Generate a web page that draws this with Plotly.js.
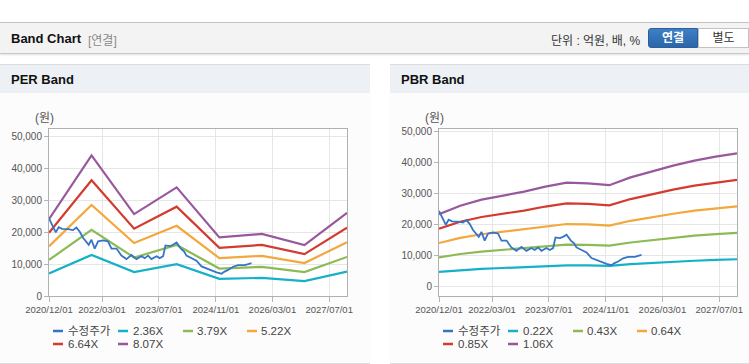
<!DOCTYPE html>
<html>
<head>
<meta charset="utf-8">
<script src="https://cdn.plot.ly/plotly-3.0.1.min.js"></script>
<style>
  html, body { margin:0; padding:0; width:749px; height:364px; overflow:hidden; background:#ffffff;
    font-family: "Liberation Sans", "Noto Sans CJK KR", sans-serif; }
  .topbar { position:absolute; left:0; top:22px; width:749px; height:30px; background:#f3f3f3;
    border-top:1px solid #c4c4c4; border-bottom:1px solid #c9c9c9; box-shadow:0 1px 2px rgba(0,0,0,0.12); }
  .tb-title { position:absolute; left:11px; top:8px; font-weight:bold; font-size:13px; color:#111; }
  .tb-sub { position:absolute; left:88px; top:8px; font-size:12px; color:#8a8a8a; }
  .tb-unit { position:absolute; left:551px; top:8px; font-size:12px; color:#333; }
  .btn1 { position:absolute; left:648px; top:5px; width:50px; height:20px; background:linear-gradient(#3f7fc4,#2a66aa);
    border:1px solid #2a5f9c; border-radius:3px 0 0 3px; color:#fff; font-weight:bold; font-size:12px; text-align:center; line-height:18px; box-sizing:border-box; }
  .btn2 { position:absolute; left:698px; top:5px; width:51px; height:20px; background:#fff;
    border:1px solid #c2c2c2; color:#333; font-size:12px; text-align:center; line-height:18px; box-sizing:border-box; }
  .panel { position:absolute; top:64px; height:298px; background:#fcfcfc; border-top:1px solid #dcdcdc; border-bottom:1px solid #dcdcdc; }
  .phead { position:absolute; left:0; top:0; width:100%; height:28px; background:#edf1f6; }
  .phead span { position:absolute; left:11px; top:7px; font-weight:bold; font-size:13px; color:#111; }
  .chart { position:absolute; top:29px; left:0; height:269px; }
</style>
</head>
<body>
<div class="topbar">
  <span class="tb-title">Band Chart</span>
  <span class="tb-sub">[연결]</span>
  <span class="tb-unit">단위 : 억원, 배, %</span>
  <div class="btn1">연결</div>
  <div class="btn2">별도</div>
</div>
<div class="panel" style="left:0;width:370px;">
  <div class="phead"><span>PER Band</span></div>
  <div id="per" class="chart" style="width:370px;"></div>
</div>
<div class="panel" style="left:390px;width:359px;">
  <div class="phead"><span>PBR Band</span></div>
  <div id="pbr" class="chart" style="width:359px;"></div>
</div>
<script>
// ---- shared price series (수정주가) ----
const priceName = '수정주가';
const priceDates = ['2020-12-01','2020-12-22','2021-01-28','2021-02-22','2021-03-23','2021-05-13','2021-06-25','2021-07-24',
  '2021-08-22','2021-09-19','2021-10-18','2021-11-07','2021-11-30','2021-12-28','2022-01-26','2022-03-10','2022-04-21',
  '2022-05-21','2022-07-03','2022-08-14','2022-09-26','2022-11-08','2022-12-21','2023-02-02','2023-03-02','2023-03-31',
  '2023-04-29','2023-06-11','2023-07-09','2023-08-07','2023-08-27','2023-10-03','2023-10-31','2023-11-30','2024-01-06',
  '2024-02-03','2024-02-23','2024-04-06','2024-05-19','2024-07-01','2024-08-13','2024-09-25','2024-11-07','2024-12-20',
  '2025-01-11','2025-02-14','2025-03-29','2025-05-11','2025-07-08','2025-09-03'];
const priceValues = [24400,22900,20000,21600,21100,21000,20700,21500,
  20200,18300,17000,16100,17700,14900,17200,17500,17200,
  14900,14900,12700,11600,12900,11600,12500,11900,12700,
  11600,12500,11900,12500,15900,15700,16100,16800,14900,
  14000,12700,11900,11100,9300,8650,7900,7400,7000,
  7600,8200,9200,9700,9700,10300];

// ---- PER band ----
const perDates = ['2020-12-01','2021-12-01','2022-12-01','2023-12-01','2024-12-01','2025-12-01','2026-12-01','2027-12-01'];
const perLabels = ['2.36X','3.79X','5.22X','6.64X','8.07X'];
const per236 = [7060,12930,7530,9980,5380,5710,4670,7650];
const per379 = [11330,20770,12090,16030,8640,9170,7500,12280];
const per522 = [15610,28610,16650,22080,11900,12630,10340,16910];
const per664 = [19850,36390,21180,28090,15140,16070,13150,21510];
const per807 = [24130,44220,25740,34140,18400,19530,15980,26150];

// ---- PBR band ----
const pbrDates = ['2020-12-01','2021-06-01','2021-12-01','2022-06-01','2022-12-01','2023-06-01','2023-12-01','2024-06-01',
  '2024-12-01','2025-06-01','2025-12-01','2026-06-01','2026-12-01','2027-06-01','2027-12-01'];
const pbrLabels = ['0.22X','0.43X','0.64X','0.85X','1.06X'];
const pbr022 = [4850,5420,5820,6090,6350,6690,6950,6910,6790,7310,7720,8090,8430,8690,8900];
const pbr043 = [9480,10590,11370,11890,12420,13070,13590,13510,13270,14290,15090,15810,16470,16990,17400];
const pbr064 = [14110,15760,16930,17700,18480,19460,20220,20110,19740,21260,22460,23530,24510,25280,25900];
const pbr085 = [18740,20940,22480,23510,24550,25840,26860,26710,26220,28240,29830,31260,32560,33580,34400];
const pbr106 = [23370,26110,28040,29320,30610,32220,33500,33310,32700,35210,37200,38980,40600,41870,42900];

const tickVals = ['2020-12-01','2022-03-01','2023-07-01','2024-11-01','2026-03-01','2027-07-01'];
const tickText = ['2020/12/01','2022/03/01','2023/07/01','2024/11/01','2026/03/01','2027/07/01'];
const yTicks = [0,10000,20000,30000,40000,50000];

const colors = ['#17b1c7','#8cbb56','#f3a73c','#d33b2e','#98589c'];
const priceColor = '#3675c6';
const FONT = 'Liberation Sans, Noto Sans CJK KR, sans-serif';

// plot-area geometry inside each chart div (pixels)
const ML = 49, MT = 35, MB = 67, PW = 298, DIVH = 269;
const PH = DIVH - MT - MB;

function build(divId, bandDates, bandSeries, labels, yRange, rightMargin) {
  const traces = [];
  bandSeries.forEach((vals, i) => {
    traces.push({ type:'scatter', mode:'lines', x:bandDates, y:vals, name:labels[i],
      line:{color:colors[i], width:2.2}, showlegend:false, hoverinfo:'skip' });
  });
  traces.push({ type:'scatter', mode:'lines', x:priceDates, y:priceValues, name:priceName,
    line:{color:priceColor, width:1.8}, showlegend:false, hoverinfo:'skip' });

  // legend drawn as keys + labels below the plot (2 rows, like the reference)
  const names = [priceName].concat(labels);
  const keyColors = [priceColor].concat(colors);
  const colKey = [53, 118, 183, 247];
  const colText = [66, 131, 195, 259];
  const rowY = [237, 250];            // pixel rows inside the chart div
  const px2x = p => (p - ML) / PW;
  const px2y = p => (DIVH - MB - p) / PH;
  const shapes = [], annotations = [];
  names.forEach((nm, k) => {
    const row = k < 4 ? 0 : 1, col = k < 4 ? k : k - 4;
    const y = px2y(rowY[row]);
    shapes.push({type:'line', xref:'paper', yref:'paper', x0:px2x(colKey[col]), x1:px2x(colKey[col] + 10),
      y0:y, y1:y, line:{color:keyColors[k], width:2.5}});
    annotations.push({xref:'paper', yref:'paper', x:px2x(colText[col]), y:y, xanchor:'left', yanchor:'middle',
      text:nm, showarrow:false, font:{family:FONT, size:11.5, color:'#444'}});
  });
  annotations.push({xref:'paper', yref:'paper', x:0, y:1, xanchor:'center', yanchor:'bottom', xshift:-5, yshift:2,
      text:'(원)', showarrow:false, font:{family:FONT, size:12, color:'#555'}});

  const layout = {
    width: divId === 'per' ? 370 : 359, height:DIVH,
    margin:{l:ML, r:rightMargin, t:MT, b:MB, pad:0},
    paper_bgcolor:'#fcfcfc', plot_bgcolor:'#ffffff',
    font:{family:FONT, size:10, color:'#555'},
    showlegend:false,
    xaxis:{type:'date', range:['2020-12-01','2027-12-01'], tickvals:tickVals, ticktext:tickText,
      tickfont:{family:FONT, size:9.5, color:'#555'}, ticks:'outside', ticklen:5, tickcolor:'#b5b5b5',
      showgrid:true, gridcolor:'#e6e6e6', gridwidth:1, showline:true, linecolor:'#b0b0b0', linewidth:1, mirror:true,
      zeroline:false, fixedrange:true},
    yaxis:{range:yRange, tickvals:yTicks, tickformat:',d', tickfont:{family:FONT, size:10, color:'#555'},
      ticks:'outside', ticklen:4, tickcolor:'#b5b5b5', showgrid:true, gridcolor:'#e6e6e6', gridwidth:1,
      showline:true, linecolor:'#b0b0b0', linewidth:1, mirror:true, zeroline:false, fixedrange:true},
    shapes:shapes,
    annotations:annotations
  };
  Plotly.newPlot(divId, traces, layout, {displayModeBar:false, staticPlot:true});
}

build('per', perDates, [per236, per379, per522, per664, per807], perLabels, [0, 52500], 23);
build('pbr', pbrDates, [pbr022, pbr043, pbr064, pbr085, pbr106], pbrLabels, [-2900, 50750], 12);
</script>
</body>
</html>
